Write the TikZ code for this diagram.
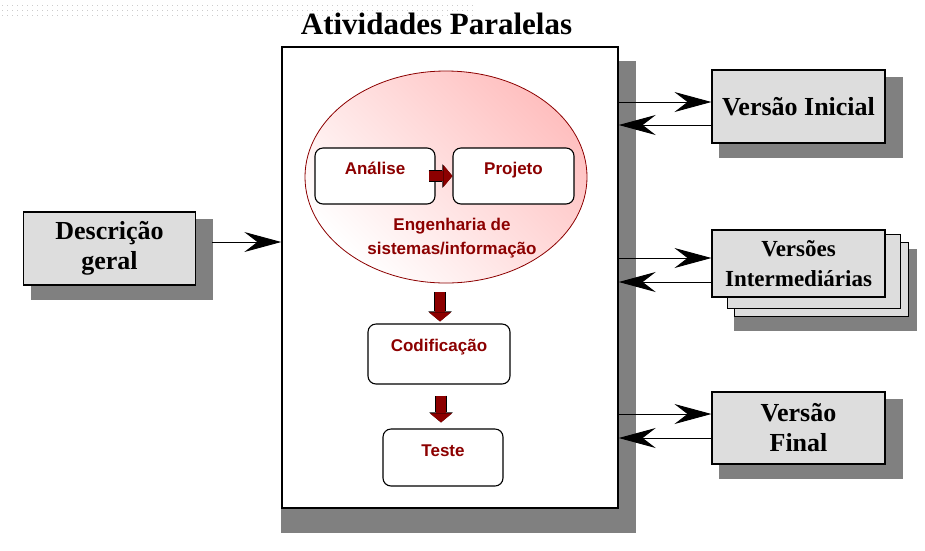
\documentclass[tikz,border=0pt]{standalone}
\usepackage{fontspec}
\usepackage{xcolor}
\usetikzlibrary{calc,backgrounds,shapes.geometric,arrows.meta}
\newfontfamily\titlefont{Liberation Serif}
\newfontfamily\stagefont{Liberation Sans}
\definecolor{engred}{RGB}{140,0,0}
\definecolor{boxgray}{RGB}{221,221,221}
\definecolor{shadowgray}{RGB}{128,128,128}

\tikzset{
  graybox/.style={draw=black, line width=1.1pt, fill=boxgray, minimum width=173pt, align=center,
    font=\titlefont\bfseries\fontsize{26}{30}\selectfont},
  stagebox/.style={draw=black, line width=1.1pt, fill=white, rounded corners=8pt, text=engred,
    font=\stagefont\bfseries\fontsize{17}{20}\selectfont, text height=12pt, text depth=15pt},
  thinarrow/.style={line width=0.9pt, -{Stealth[length=37pt,width=20pt,inset=13pt]}},
  blockarrow/.style={preaction={draw=black, line width=11.4pt, -{Triangle[length=10pt,width=23.5pt,line width=0pt]}},
    draw=engred, line width=10pt, -{Triangle[length=9pt,width=22pt,line width=0pt]}},
}

\begin{document}
\begin{tikzpicture}[x=1pt,y=-1pt]
				\useasboundingbox (0,0) rectangle (925,550);
				
				% dotted strip at the top
				\foreach \y in {5,10,15}{
					\draw[gray!40, line width=1pt, dash pattern=on 1pt off 4pt] (2,\y) -- (476,\y);}
				
				\node[font=\titlefont\bfseries\fontsize{31}{34}\selectfont] (title) at (436.5,24) {Atividades Paralelas};
				
				\node[draw, line width=1.4pt, fill=white, inner sep=0, minimum width=336pt, minimum height=461pt] (main) at (450,277.5) {};
				
				\node[ellipse, draw=engred, line width=0.8pt, inner sep=0, minimum width=282pt, minimum height=212pt,
					top color=red!25, bottom color=white, shading angle=-45] (eng) at (446,177) {};
				\node[font=\stagefont\bfseries\fontsize{17}{24}\selectfont, text=engred, align=center] (englabel) at (452,238) {Engenharia de\\sistemas/informação};
				
				\node[stagebox, minimum width=120pt, minimum height=56pt] (ana) at (375,176) {Análise};
				\node[stagebox, minimum width=121pt, minimum height=56pt] (proj) at (513.5,176) {Projeto};
				\node[stagebox, minimum width=142pt, minimum height=60pt, text depth=18pt] (cod) at (439,354) {Codificação};
				\node[stagebox, minimum width=120pt, minimum height=57pt] (teste) at (443,457.5) {Teste};
				
				\draw[blockarrow] ($(ana.east)+(-7,0)$) -- (proj.west);
				\draw[blockarrow] ($(cod.north)+(1,-31)$) -- ($(cod.north)+(1,-2)$);
				\draw[blockarrow] ($(cod.south)+(2,11)$) -- ($(teste.north)+(-2,-6)$);
				
				\node[graybox, minimum width=172pt, minimum height=73pt] (desc) at (109.5,248.5) {Descrição\\geral};
				\node[graybox, minimum height=73pt] (vi) at (798.5,106.5) {Versão Inicial};
				\node[graybox, minimum height=67pt, font=\titlefont\bfseries\fontsize{23}{30}\selectfont] (vint) at (798.5,263.5) {Versões\\Intermediárias};
				\node[graybox, minimum height=72pt] (vf) at (798.5,428) {Versão\\Final};
				
				\begin{scope}[on background layer]
					\fill[shadowgray] ($(main.north west)+(0,15)$) rectangle ($(main.south east)+(17,24)$);
					\foreach \ver in {desc,vi,vf}{
						\fill[shadowgray] ($(\ver.north west)+(8,8)$) rectangle ($(\ver.south east)+(17,14)$);}
					\fill[shadowgray] ($(vint.north west)+(23,20)$) rectangle ($(vint.south east)+(31,33)$);
					\draw[line width=1.1pt, fill=boxgray] ($(vint.north west)+(23,13)$) rectangle ($(vint.south east)+(23,19)$);
					\draw[line width=1.1pt, fill=boxgray] ($(vint.north west)+(16,5)$) rectangle ($(vint.south east)+(15,11)$);
				\end{scope}
				
				\coordinate (descout) at ($(desc.east)+(16,-6.5)$);
				\draw[thinarrow] (descout) -- (descout -| main.west);
				
				\foreach \ver/\up/\dn in {vi/-4.5/18.5, vint/-5.5/18.5, vf/-14/10}{
					\coordinate (to\ver) at ($(\ver.west)+(0,\up)$);
					\coordinate (from\ver) at ($(\ver.west)+(0,\dn)$);
					\draw[thinarrow] (to\ver -| main.east) -- (to\ver);
					\draw[thinarrow] (from\ver) -- (from\ver -| main.east);}
			\end{tikzpicture}
\end{document}
